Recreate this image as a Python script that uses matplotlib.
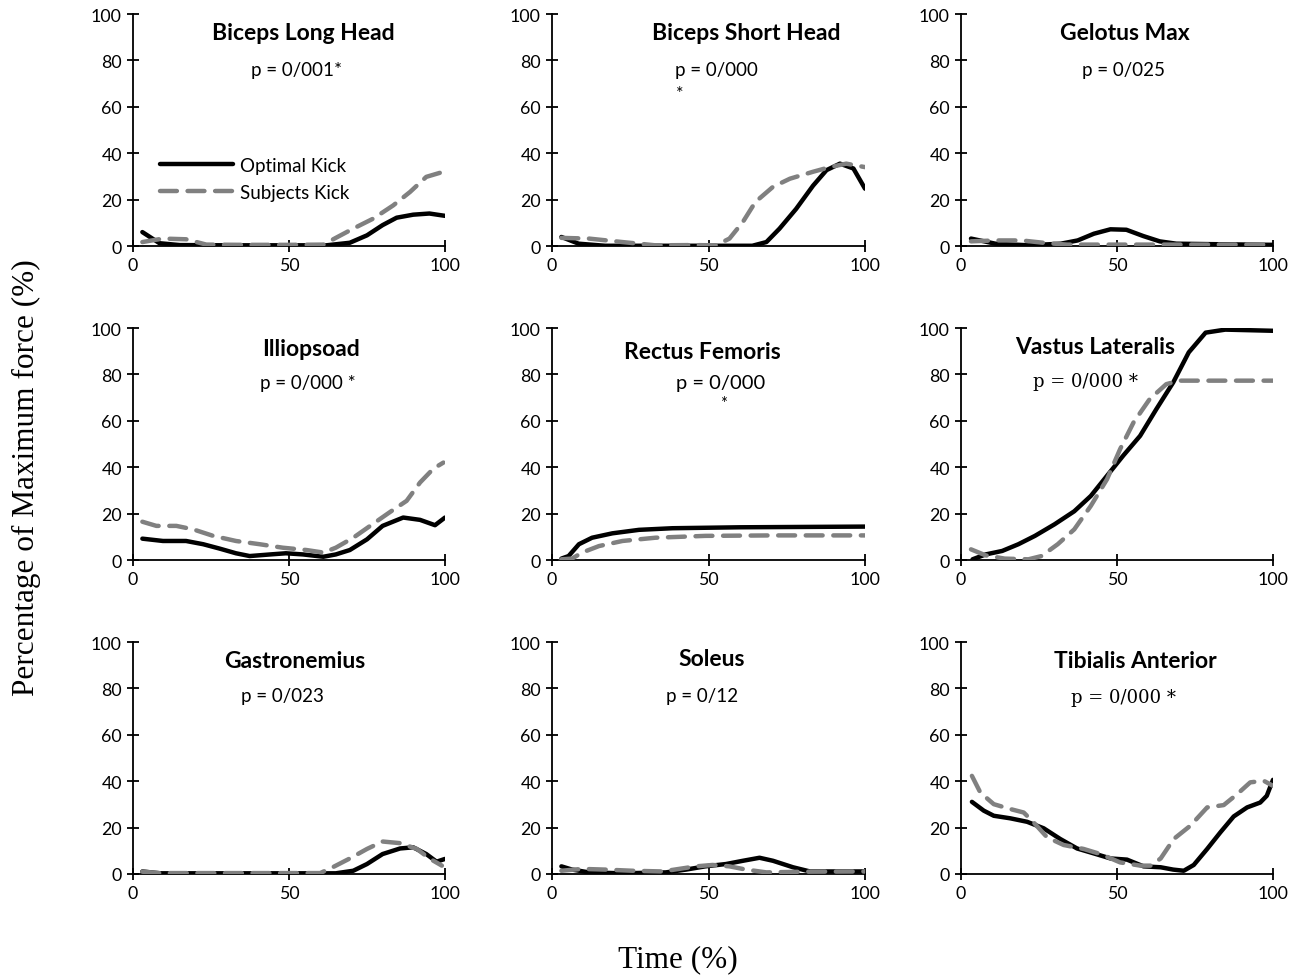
import matplotlib
matplotlib.use("Agg")
import matplotlib.pyplot as plt

titles = ["Biceps Long Head", "Biceps Short Head", "Gelotus Max",
          "Illiopsoad", "Rectus Femoris", "Vastus Lateralis",
          "Gastronemius", "Soleus", "Tibialis Anterior"]
p_texts = ["p = 0/001*", "p = 0/000\n*", "p = 0/025",
           "p = 0/000 *", "p = 0/000\n*", "p = 0/000 *",
           "p = 0/023", "p = 0/12", "p = 0/000 *"]

# Biceps Long Head
bl_opt_x = [3, 8.5, 15, 30, 45, 62, 69.5, 75, 80, 84.5, 89.8, 95, 100]
bl_opt_y = [6, 1.2, 0.4, 0.3, 0.3, 0.3, 1.4, 4.6, 9, 12.2, 13.5, 14, 13]
bl_sub_x = [3, 9.6, 17, 23.5, 35, 50, 61, 65, 70.6, 77, 83.4, 88.8, 94, 100]
bl_sub_y = [1.7, 3.2, 2.9, 0.6, 0.5, 0.5, 0.6, 3.5, 7.5, 11.8, 17.5, 23.3, 29.8, 32.2]
# Biceps Short Head
bs_opt_x = [3, 8.5, 17, 35, 50, 64, 68.5, 72.7, 78, 83.4, 87.7, 92, 96.3, 100]
bs_opt_y = [3.9, 1, 0.1, 0.1, 0.1, 0.1, 1.7, 7.5, 16, 26, 32.7, 35.5, 33.4, 24.7]
bs_sub_x = [3, 11.8, 22.5, 33, 45, 52.4, 56.7, 61, 65, 70.6, 76, 83.4, 88.8, 94, 100]
bs_sub_y = [3.5, 3.2, 1.7, 0.3, 0.4, 0.3, 3.2, 10.4, 19, 25.5, 29, 32, 34, 35.5, 34]
# Gelotus Max
gm_opt_x = [3.2, 11, 21.6, 32, 37.4, 42.6, 47.9, 53, 58.4, 63.7, 69, 80, 100]
gm_opt_y = [3.2, 1, 0.3, 1, 2.4, 5.3, 7.2, 7, 4.3, 2, 1, 0.8, 0.5]
gm_sub_x = [3.2, 11, 19.5, 27, 34, 50, 70, 100]
gm_sub_y = [2, 2.4, 2.4, 1.3, 0.6, 0.6, 0.6, 0.6]
# Illiopsoad
il_opt_x = [3, 9.6, 17, 22.5, 27.8, 33, 37.4, 44, 49, 54.5, 61, 65, 69.5, 75, 80, 86.6, 92, 96.8, 100]
il_opt_y = [9.2, 8.2, 8.2, 6.8, 4.9, 2.9, 1.7, 2.4, 2.9, 2.4, 1.4, 2.4, 4.3, 8.9, 14.7, 18.3, 17.3, 15, 18.3]
il_sub_x = [3, 7.5, 13.9, 19.3, 25.7, 33, 40.6, 48, 55.6, 61, 65, 70.6, 76, 82.4, 87.7, 92, 96.3, 99.5]
il_sub_y = [16.5, 14.7, 14.7, 13.2, 10.4, 8.2, 6.8, 5.3, 4.3, 3.2, 5.3, 9.6, 14.7, 20.7, 25.5, 33.4, 39.4, 42]
# Rectus Femoris
rf_opt_x = [3, 5.3, 8.6, 12.8, 19.3, 27.8, 38.5, 60, 100]
rf_opt_y = [0.6, 1.7, 6.8, 9.6, 11.5, 13, 13.7, 14.1, 14.4]
rf_sub_x = [3, 6.4, 9.6, 15, 22.5, 33, 49, 70.6, 100]
rf_sub_y = [0.3, 0.6, 3.2, 6, 8.2, 9.6, 10.4, 10.6, 10.6]
# Vastus Lateralis
vl_opt_x = [3.7, 7.9, 13.2, 18.4, 23.7, 30, 36.3, 41.6, 46.8, 52, 57.4, 62.6, 68, 73, 78.4, 84.7, 100]
vl_opt_y = [0.3, 2.4, 3.9, 6.8, 10.4, 15.4, 21, 27.6, 36.3, 45, 53.5, 65, 76.5, 89.5, 98, 99.3, 98.8]
vl_sub_x = [3.2, 7.9, 14, 21.6, 25.8, 31, 36.3, 41.6, 46.8, 51, 55.3, 60.5, 65.8, 70, 100]
vl_sub_y = [4.6, 2, 0.6, 0.3, 1.7, 6.8, 13.2, 23.3, 34.8, 47.8, 59.3, 69.4, 75.8, 77.3, 77.3]
# Gastronemius
ga_opt_x = [3, 8.6, 30, 50, 65, 70.6, 75, 80, 85.6, 89.8, 94, 97.3, 100]
ga_opt_y = [1.1, 0.3, 0.3, 0.3, 0.3, 1.4, 4.3, 8.6, 11, 11.5, 8.6, 5.3, 6.5]
ga_sub_x = [3, 8.6, 30, 50, 60, 64, 69.5, 75, 80, 85.6, 91, 95, 99]
ga_sub_y = [1, 0.4, 0.4, 0.4, 0.4, 2.9, 6.7, 10.8, 14, 13.3, 10.8, 6.7, 3.6]
# Soleus
so_opt_x = [3, 6.4, 11.8, 22.5, 36.4, 42.8, 49, 55.6, 61, 66.3, 70.6, 77, 82.4, 100]
so_opt_y = [3.3, 1.9, 0.7, 0.3, 0.7, 1.9, 3.3, 4.3, 5.7, 7, 5.7, 2.9, 1.1, 1.1]
so_sub_x = [3, 9.6, 17, 25.7, 35.3, 40.6, 46, 51.3, 56.7, 62, 68.5, 81, 100]
so_sub_y = [1.4, 2.2, 1.9, 1.4, 1.1, 2.2, 3.3, 3.9, 3.3, 1.9, 0.7, 1, 1.1]
# Tibialis Anterior
ta_opt_x = [3.5, 7.3, 10.5, 15.8, 21.2, 26.5, 31.8, 37.2, 42.5, 47.9, 53.2, 58.5, 64, 68, 71.4,
            74.6, 78.9, 83.1, 87.4, 91.7, 95.9, 98, 100]
ta_opt_y = [31.1, 27.3, 25.1, 24, 22.5, 19.7, 15.1, 11, 8.9, 6.7, 6.2, 3.3, 2.9, 1.9, 1.4,
            3.9, 10.8, 17.9, 24.8, 28.7, 30.8, 33.7, 40.6]
ta_sub_x = [3.5, 6.2, 10.5, 15.8, 20.1, 23.3, 27.6, 32.9, 39.3, 44.7, 51, 57.5, 60.7, 64, 68.2,
            73.5, 78.9, 84.2, 88.5, 92.7, 97, 100]
ta_sub_y = [42.3, 35.1, 30.1, 28, 26.5, 22.2, 15.8, 12.5, 10.8, 8.6, 5, 3.6, 3.6, 6.7, 15.1,
            20.8, 28.7, 29.7, 34.4, 39.5, 40.2, 38]

optimal = [(bl_opt_x, bl_opt_y), (bs_opt_x, bs_opt_y), (gm_opt_x, gm_opt_y),
           (il_opt_x, il_opt_y), (rf_opt_x, rf_opt_y), (vl_opt_x, vl_opt_y),
           (ga_opt_x, ga_opt_y), (so_opt_x, so_opt_y), (ta_opt_x, ta_opt_y)]
subjects = [(bl_sub_x, bl_sub_y), (bs_sub_x, bs_sub_y), (gm_sub_x, gm_sub_y),
            (il_sub_x, il_sub_y), (rf_sub_x, rf_sub_y), (vl_sub_x, vl_sub_y),
            (ga_sub_x, ga_sub_y), (so_sub_x, so_sub_y), (ta_sub_x, ta_sub_y)]

# layout (positions in axes data units)
title_pos = [(54.5, 92), (62, 92), (52.5, 92), (57, 91), (48, 90), (43, 92), (52, 92), (51, 93), (56, 92)]
p_pos = [(52.5, 76), (39.3, 76), (52, 76), (56, 76.5), (54, 76.5), (40, 77), (48, 77), (48, 77), (52, 76.5)]
p_serif = [False, False, False, False, False, True, False, False, True]

W, H = 1301, 978
fig = plt.figure(figsize=(W / 100, H / 100), dpi=100)
lefts = [133, 552, 961]
widths = [312, 313, 312]
bottoms = [247, 561, 875]
sans = "Lato"
LW = 3.2

for i in range(9):
    r, c = divmod(i, 3)
    ax = fig.add_axes([lefts[c] / W, 1 - bottoms[r] / H, widths[c] / W, 232 / H])
    ox, oy = optimal[i]
    sx, sy = subjects[i]
    ax.plot(ox, oy, color="black", lw=LW, solid_capstyle="round", solid_joinstyle="round",
            label="Optimal Kick", zorder=3)
    ax.plot(sx, sy, color="#808080", lw=LW, dashes=(3.8, 2.4), dash_capstyle="round",
            label="Subjects Kick", zorder=4)
    ax.set_xlim(0, 100)
    ax.set_ylim(0, 100)
    ax.set_xticks([0, 50, 100])
    ax.set_yticks([0, 20, 40, 60, 80, 100])
    ax.spines["top"].set_visible(False)
    ax.spines["right"].set_visible(False)
    ax.spines["left"].set_linewidth(1.3)
    ax.spines["bottom"].set_linewidth(1.3)
    ax.tick_params(direction="inout", length=8, width=1.3, labelsize=12.8, pad=4)
    for lab in ax.get_xticklabels() + ax.get_yticklabels():
        lab.set_fontfamily(sans)
    ax.patch.set_alpha(0)
    ax.text(title_pos[i][0], title_pos[i][1], titles[i], ha="center", va="center",
            fontsize=16.5, fontweight="bold", family=sans)
    if p_serif[i]:
        ax.text(p_pos[i][0], p_pos[i][1], p_texts[i], ha="center", va="center",
                fontsize=13, family="DejaVu Serif")
    elif i == 1:
        first, star = p_texts[i].split("\n")
        ax.text(p_pos[i][0], p_pos[i][1], first, ha="left", va="center", fontsize=13.5, family=sans)
        ax.text(p_pos[i][0] + 0.3, 66, star, ha="left", va="center", fontsize=13, family=sans)
    elif i == 4:
        first, star = p_texts[i].split("\n")
        ax.text(p_pos[i][0], p_pos[i][1], first, ha="center", va="center", fontsize=14.5, family=sans)
        ax.text(54.7, 67.5, star, ha="center", va="center", fontsize=12, family=sans)
    else:
        ax.text(p_pos[i][0], p_pos[i][1], p_texts[i], ha="center", va="center",
                fontsize=13.5, family=sans)
    if i == 0:
        ax.legend(loc="center left", bbox_to_anchor=(0.085, 0.29), frameon=False,
                  prop={"family": sans, "size": 13.5}, handlelength=3.9, handletextpad=0.4,
                  borderpad=0, borderaxespad=0, labelspacing=0.55)

fig.text(26 / W, 1 - 478 / H, "Percentage of Maximum force (%)", rotation=90, ha="center",
         va="center", fontsize=22.5, family="Liberation Serif")
fig.text(678 / W, 1 - 960 / H, "Time (%)", ha="center", va="center", fontsize=22.5,
         family="Liberation Serif")

fig.savefig("out.png", dpi=100)
